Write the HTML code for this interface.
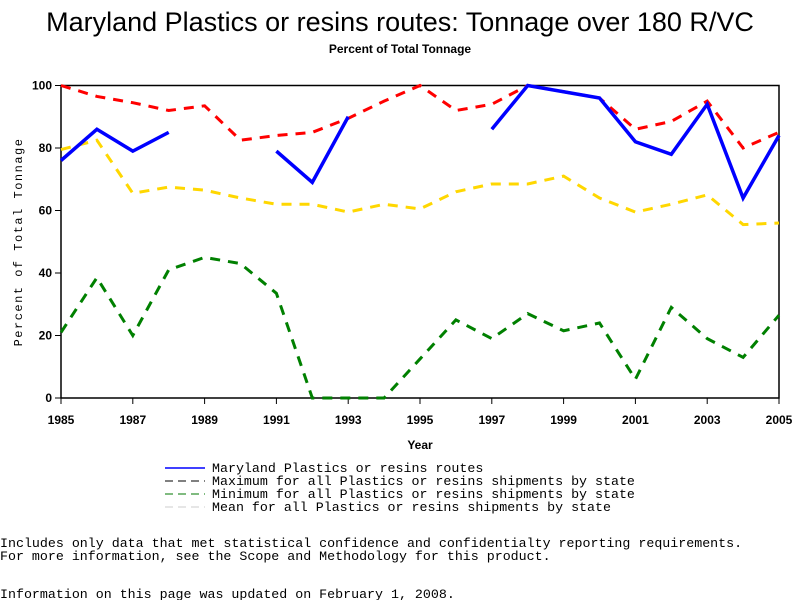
<!DOCTYPE html>
<html><head><meta charset="utf-8"><style>
body{margin:0;background:#fff;width:800px;height:600px;overflow:hidden}
svg text{font-family:"Liberation Sans",sans-serif}
.mono{font-family:"Liberation Mono",monospace;font-size:13.3px}
</style></head><body>
<svg id="chart" width="800" height="600" xmlns="http://www.w3.org/2000/svg">
<text x="400" y="31" text-anchor="middle" font-size="27">Maryland Plastics or resins routes: Tonnage over 180 R/VC</text>
<text x="400" y="53" text-anchor="middle" font-size="12" font-weight="bold">Percent of Total Tonnage</text>
<rect x="61" y="85.5" width="718" height="312.5" fill="none" stroke="#000" stroke-width="1.5"/>
<g id="axes"></g>
<g id="series"></g>
<text x="420" y="449" text-anchor="middle" font-size="12" font-weight="bold">Year</text>
<text transform="translate(22,242) rotate(-90)" text-anchor="middle" class="mono" style="font-size:12px" letter-spacing="1.5">Percent of Total Tonnage</text>
<g>
<line x1="165" y1="468" x2="205" y2="468" stroke="#0000ff" stroke-width="1.5"/>
<text x="212" y="472" class="mono">Maryland Plastics or resins routes</text>
<line x1="165" y1="481" x2="205" y2="481" stroke="#000" stroke-dasharray="8,5"/>
<text x="212" y="485" class="mono">Maximum for all Plastics or resins shipments by state</text>
<line x1="165" y1="494" x2="205" y2="494" stroke="#007700" stroke-dasharray="8,5"/>
<text x="212" y="498" class="mono">Minimum for all Plastics or resins shipments by state</text>
<line x1="165" y1="507" x2="205" y2="507" stroke="#ccc" stroke-dasharray="8,5"/>
<text x="212" y="511" class="mono">Mean for all Plastics or resins shipments by state</text>
</g>
<text x="0" y="547" class="mono">Includes only data that met statistical confidence and confidentialty reporting requirements.</text>
<text x="0" y="560" class="mono">For more information, see the Scope and Methodology for this product.</text>
<text x="0" y="598" class="mono">Information on this page was updated on February 1, 2008.</text>
</svg>
<script>
const years=[1985,1986,1987,1988,1989,1990,1991,1992,1993,1994,1995,1996,1997,1998,1999,2000,2001,2002,2003,2004,2005];
const maryland=[76,86,79,85,null,null,79,69,90,null,null,null,86,100,98,96,82,78,94,64,84];
const maxV=[100,96.5,94.5,92,93.5,82.5,84,85,89.5,95,100,92,94,100,98,96,86,88.5,95,80,85];
const meanV=[79.5,82.5,65.5,67.5,66.5,64,62,62,59.5,62,60.5,66,68.5,68.5,71,64,59.5,62,65,55.5,56];
const minV=[21,38.5,20,41,45,43,33.5,0,0,0,12.5,25,19,27,21.5,24,6,29,19,13,26.5];
const yTicks=[0,20,40,60,80,100];
const xTicks=[1985,1987,1989,1991,1993,1995,1997,1999,2001,2003,2005];
const NS="http://www.w3.org/2000/svg";
const X=y=>61+(y-1985)*(718/20);
const Y=v=>398-v*3.125;
const axes=document.getElementById('axes'),ser=document.getElementById('series');
function mk(t,a,p){const e=document.createElementNS(NS,t);for(const k in a)e.setAttribute(k,a[k]);p.appendChild(e);return e;}
yTicks.forEach(v=>{
 const l=mk('line',{x1:55,x2:61,y1:Y(v),y2:Y(v),stroke:'#000'},axes);
 
 
 const t=mk('text',{x:52,y:Y(v)+4,'text-anchor':'end','font-size':12,'font-weight':'bold'},axes);
 t.textContent=v;
 
 
});
xTicks.forEach(v=>{
 const l=mk('line',{x1:X(v),x2:X(v),y1:398,y2:404,stroke:'#000'},axes);
 
 
 const t=mk('text',{x:X(v),y:424,'text-anchor':'middle','font-size':12,'font-weight':'bold'},axes);
 t.textContent=v;
 
 
});
function draw(vals,color,dash,w,name){
 let d='',pen=false;
 vals.forEach((v,i)=>{if(v===null){pen=false;return;}d+=(pen?'L':'M')+X(years[i])+' '+Y(v)+' ';pen=true;});
 const p=mk('path',{d:d,fill:'none',stroke:color,'stroke-width':w,'stroke-dasharray':dash||'none'},ser);
 
 
}
draw(maxV,'#ff0000','10,8',3,'max-line');
draw(meanV,'#ffd700','10,8',3,'mean-line');
draw(minV,'#008000','10,8',3,'min-line');
draw(maryland,'#0000ff',null,3.5,'maryland-line');
</script>
</body></html>
